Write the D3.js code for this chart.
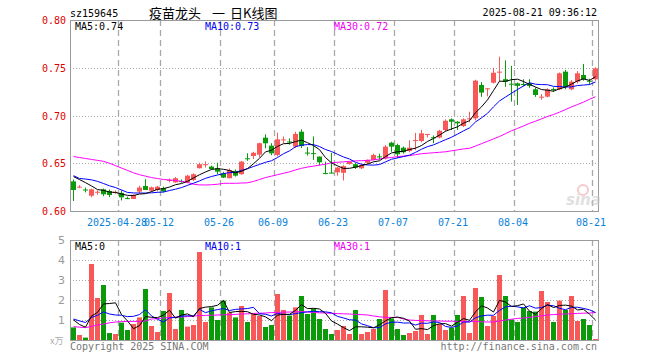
<!DOCTYPE html>
<html><head><meta charset="utf-8">
<script src="https://cdn.jsdelivr.net/npm/d3@7/dist/d3.min.js"></script>
<style>
html,body{margin:0;padding:0;background:#fff;}
svg{display:block;}
.mono{font-family:"DejaVu Sans Mono",monospace;font-size:10px;}
</style></head>
<body><svg id="c" width="660" height="360"></svg>
<script>
// ---------- data ----------
const dates = [
"2025-04-16","2025-04-17","2025-04-18","2025-04-21","2025-04-22","2025-04-23","2025-04-24","2025-04-25","2025-04-28","2025-04-29","2025-04-30",
"2025-05-06","2025-05-07","2025-05-08","2025-05-09","2025-05-12","2025-05-13","2025-05-14","2025-05-15","2025-05-16",
"2025-05-19","2025-05-20","2025-05-21","2025-05-22","2025-05-23","2025-05-26","2025-05-27","2025-05-28","2025-05-29","2025-05-30",
"2025-06-03","2025-06-04","2025-06-05","2025-06-06","2025-06-09","2025-06-10","2025-06-11","2025-06-12","2025-06-13",
"2025-06-16","2025-06-17","2025-06-18","2025-06-19","2025-06-20","2025-06-23","2025-06-24","2025-06-25","2025-06-26","2025-06-27","2025-06-30",
"2025-07-01","2025-07-02","2025-07-03","2025-07-04","2025-07-07","2025-07-08","2025-07-09","2025-07-10","2025-07-11",
"2025-07-14","2025-07-15","2025-07-16","2025-07-17","2025-07-18","2025-07-21","2025-07-22","2025-07-23","2025-07-24","2025-07-25",
"2025-07-28","2025-07-29","2025-07-30","2025-07-31","2025-08-01","2025-08-04","2025-08-05","2025-08-06","2025-08-07","2025-08-08",
"2025-08-11","2025-08-12","2025-08-13","2025-08-14","2025-08-15","2025-08-18","2025-08-19","2025-08-20","2025-08-21"];

const opens = [0.631,0.625,0.6225,0.616,0.6198,0.6227,0.621,0.6195,0.619,0.6135,0.6126,
0.6203,0.6262,0.6213,0.622,0.624,0.632,0.630,0.6315,0.630,
0.6325,0.6448,0.6488,0.6465,0.6447,0.6395,0.6343,0.642,0.6385,0.6552,
0.6576,0.659,0.6768,0.6684,0.6587,0.6748,0.6728,0.6674,0.683,
0.6612,0.6606,0.657,0.6397,0.6402,0.6405,0.640,0.6492,0.649,0.6447,0.6505,
0.6535,0.6572,0.6552,0.6715,0.669,0.6663,0.6628,0.674,0.6733,
0.6805,0.6772,0.677,0.6848,0.696,0.6935,0.689,0.6968,0.697,0.732,
0.7283,0.7343,0.7455,0.738,0.7333,0.7337,0.733,0.734,0.7274,0.7195,
0.7197,0.7277,0.7274,0.7459,0.7274,0.7354,0.7424,0.7364,0.738];
const highs = [0.633,0.627,0.6245,0.6235,0.6215,0.6235,0.6225,0.6215,0.6215,0.615,0.6175,
0.6265,0.6333,0.6255,0.6262,0.6255,0.634,0.6355,0.633,0.638,
0.6395,0.6505,0.652,0.6475,0.6505,0.641,0.6445,0.6435,0.6525,0.6605,
0.662,0.6715,0.6803,0.671,0.682,0.678,0.676,0.683,0.6855,
0.667,0.678,0.657,0.6517,0.661,0.646,0.648,0.652,0.650,0.649,0.654,
0.660,0.660,0.669,0.6725,0.6705,0.6675,0.674,0.6817,0.6848,
0.6807,0.679,0.685,0.696,0.697,0.694,0.697,0.704,0.7375,0.735,
0.7285,0.750,0.7616,0.7577,0.752,0.7345,0.738,0.738,0.7295,0.7225,
0.7285,0.7295,0.745,0.7477,0.737,0.7465,0.754,0.7385,0.7505];
const lows = [0.6105,0.624,0.6195,0.6144,0.617,0.6155,0.6145,0.618,0.611,0.6125,0.6125,
0.6185,0.622,0.620,0.6205,0.6195,0.630,0.6295,0.6295,0.629,
0.6315,0.6445,0.6455,0.6435,0.6385,0.6345,0.6343,0.636,0.638,0.6525,
0.6545,0.6565,0.6657,0.6585,0.657,0.671,0.6695,0.666,0.666,
0.658,0.6535,0.6478,0.6385,0.6395,0.637,0.632,0.6485,0.644,0.644,0.649,
0.653,0.6535,0.654,0.662,0.6555,0.660,0.6615,0.6637,0.672,
0.677,0.671,0.676,0.683,0.6848,0.6848,0.688,0.693,0.695,0.7195,
0.720,0.7335,0.7354,0.730,0.7145,0.711,0.7305,0.729,0.7195,0.7165,
0.719,0.725,0.7265,0.7275,0.7265,0.7335,0.7365,0.732,0.7365];
const closes = [0.622,0.6255,0.622,0.6227,0.6202,0.6175,0.6168,0.620,0.6143,0.6133,0.6168,
0.6245,0.622,0.6248,0.6255,0.6205,0.6325,0.6343,0.631,0.637,
0.6385,0.649,0.649,0.644,0.6412,0.635,0.643,0.637,0.6517,0.655,
0.661,0.671,0.6709,0.6604,0.675,0.675,0.6725,0.6807,0.668,
0.661,0.6604,0.651,0.6395,0.640,0.6455,0.647,0.6515,0.6455,0.6482,0.6535,
0.6587,0.657,0.6674,0.6674,0.6594,0.6615,0.6663,0.6743,0.6813,
0.6807,0.677,0.684,0.6945,0.6935,0.6918,0.696,0.697,0.7365,0.724,
0.7285,0.7448,0.7459,0.7354,0.733,0.731,0.7327,0.731,0.7215,0.7197,
0.7274,0.7274,0.7442,0.730,0.7354,0.7442,0.738,0.7361,0.7494];
// volume (unit as on axis)
const volumes = [0.63,0.25,0.12,3.8,2.1,2.75,0.35,0.3,0.87,0.5,0.8,
1.13,2.55,0.7,0.4,1.45,2.35,0.55,1.5,0.67,
0.75,4.4,0.9,1.63,1.0,1.97,1.37,1.13,1.7,0.9,
1.33,1.2,0.65,0.75,2.3,1.5,1.22,1.63,2.2,
1.3,1.57,1.05,0.55,0.3,0.5,0.7,0.3,1.5,0.3,0.4,
0.55,1.05,2.5,1.08,0.55,0.25,0.35,0.45,1.25,
0.3,1.25,0.8,0.5,0.62,1.25,2.2,0.35,2.6,2.15,
0.7,1.2,3.25,2.2,1.03,0.9,1.63,1.45,1.42,2.45,
1.9,0.9,1.97,1.5,2.2,0.95,1.05,0.75,0.05];
// closes / volumes of the 9 sessions before the first visible candle (estimated from MA lines)
const prevCloses = [0.655,0.628,0.631,0.636,0.640,0.641,0.638,0.640,0.639];
const prevVolumes = [1.2,0.9,1.3,1.0,1.07,1.4,0.8,1.0,1.2];
// MA30 lines
const ma30 = [0.657,0.656,0.655,0.654,0.653,0.652,0.650,0.6475,0.645,0.6425,0.640,
0.638,0.6365,0.635,0.634,0.633,0.6325,0.632,0.631,0.630,
0.628,0.6273,0.6273,0.6275,0.628,0.629,0.629,0.629,0.6293,0.6295,
0.631,0.633,0.635,0.6365,0.638,0.6395,0.641,0.643,0.6447,
0.646,0.647,0.648,0.649,0.6505,0.651,0.6515,0.652,0.6525,0.6527,0.653,
0.6535,0.6545,0.6555,0.656,0.657,0.6575,0.658,0.659,0.660,
0.6605,0.661,0.6615,0.662,0.663,0.664,0.665,0.6657,0.668,0.6705,
0.673,0.6755,0.678,0.681,0.684,0.6865,0.689,0.6918,0.694,0.6965,
0.699,0.701,0.7035,0.7062,0.709,0.7115,0.714,0.717,0.7197];
const volMa30 = [0.67,0.64,0.62,0.68,0.75,0.80,0.86,0.90,0.92,0.93,0.93,
0.93,0.95,1.05,1.07,1.1,1.13,1.14,1.15,1.17,
1.2,1.22,1.23,1.24,1.25,1.26,1.27,1.28,1.3,1.31,
1.33,1.34,1.35,1.37,1.38,1.39,1.4,1.41,1.42,
1.4,1.38,1.36,1.35,1.33,1.32,1.31,1.3,1.28,1.27,1.25,
1.2,1.16,1.13,1.13,1.13,1.05,1.0,0.98,0.97,
0.96,0.95,0.95,0.94,0.94,0.93,0.93,0.92,0.92,0.91,
0.9,0.9,0.95,1.0,1.04,1.08,1.1,1.13,1.17,1.21,
1.25,1.27,1.29,1.3,1.32,1.33,1.34,1.35,1.37];

const priceTicks = [0.60,0.65,0.70,0.75,0.80];
const volTicks = [1,2,3,4,5];
const tickDates = ["2025-04-28","2025-05-12","2025-05-26","2025-06-09","2025-06-23","2025-07-07","2025-07-21","2025-08-04","2025-08-21"];
const tickLabels = ["2025-04-28","05-12","05-26","06-09","06-23","07-07","07-21","08-04","08-21"];
const title = "疫苗龙头 一 日K线图";
const code = "sz159645";
const stamp = "2025-08-21 09:36:12";
const priceLegend = ["MA5:0.74","MA10:0.73","MA30:0.72"];
const volLegend = ["MA5:0","MA10:1","MA30:1"];
const volUnit = "x万";

// ---------- drawing ----------
const RED="#f85858", GREEN="#0a9a0a", GRID="#a8a8a8", BORDER="#9a9a9a";
const svg = d3.select("#c");
const L=70, R=598, PT=20, PB=211, VT=240, VB=340;
const x = d3.scaleBand().domain(dates).range([L,R]);
const y = d3.scaleLinear().domain([0.60,0.80]).range([PB,PT]);
const yv = d3.scaleLinear().domain([0,5]).range([VB,VT]);
const cx = d => Math.round(x(d)) + 3.5;

function ma(arr, prev, n){
  const all = prev.concat(arr);
  return arr.map((_,i)=>{ const j=i+prev.length; return d3.mean(all.slice(j-n+1,j+1)); });
}
const ma5 = ma(closes, prevCloses, 5), ma10 = ma(closes, prevCloses, 10);
const vma5 = ma(volumes, prevVolumes, 5), vma10 = ma(volumes, prevVolumes, 10);

// grids
function grid(top,bot,ys,yscale){
  const g = svg.append("g");
  g.selectAll("line.h").data(ys).join("line")
    .attr("x1",L).attr("x2",R)
    .attr("y1",d=>Math.round(yscale(d))+0.5).attr("y2",d=>Math.round(yscale(d))+0.5)
    .attr("stroke",GRID).attr("stroke-dasharray","1,2");
  g.selectAll("line.v").data(tickDates).join("line")
    .attr("x1",d=>Math.round(x(d))+0.5).attr("x2",d=>Math.round(x(d))+0.5)
    .attr("y1",top).attr("y2",bot)
    .attr("stroke",GRID).attr("stroke-width",1.3).attr("stroke-dasharray","6,4");
  g.append("rect").attr("x",L+0.5).attr("y",top+0.5).attr("width",R-L).attr("height",bot-top)
    .attr("fill","none").attr("stroke",BORDER).attr("stroke-width",1);
}
grid(PT,PB,[0.65,0.70,0.75],y);
grid(VT,VB,[1,2,3,4],yv);

// watermark
const wm = svg.append("g").attr("opacity",0.55);
wm.append("circle").attr("cx",583).attr("cy",190).attr("r",5).attr("fill","none").attr("stroke","#f0a0a0").attr("stroke-width",2);
wm.append("text").attr("x",566).attr("y",205).attr("font-family","DejaVu Sans").attr("font-weight","bold")
  .attr("font-style","italic").attr("font-size",15).attr("fill","#c8c8c8").text("sina");

// candles
const idx = d3.range(dates.length);
const up = i => closes[i] >= opens[i];
const cg = svg.append("g");
cg.selectAll("line").data(idx).join("line")
  .attr("x1",i=>cx(dates[i])).attr("x2",i=>cx(dates[i]))
  .attr("y1",i=>y(highs[i])).attr("y2",i=>y(lows[i]))
  .attr("stroke",i=>up(i)?RED:GREEN).attr("stroke-width",1);
cg.selectAll("rect").data(idx).join("rect")
  .attr("x",i=>Math.round(x(dates[i]))+1).attr("width",5)
  .attr("y",i=>y(Math.max(opens[i],closes[i])))
  .attr("height",i=>Math.max(1,Math.abs(y(opens[i])-y(closes[i]))))
  .attr("fill",i=>up(i)?RED:GREEN);

// volume bars
svg.append("g").selectAll("rect").data(idx).join("rect")
  .attr("x",i=>Math.round(x(dates[i]))+1).attr("width",5)
  .attr("y",i=>yv(volumes[i])).attr("height",i=>VB-yv(volumes[i]))
  .attr("fill",i=>up(i)?RED:GREEN);

// MA lines
function mline(vals, ys, color){
  svg.append("path").datum(vals)
    .attr("d", d3.line().x((v,i)=>cx(dates[i])).y(v=>ys(v)))
    .attr("fill","none").attr("stroke",color).attr("stroke-width",1);
}
mline(ma30,y,"#ff00ff"); mline(ma10,y,"#0000ff"); mline(ma5,y,"#000000");
mline(volMa30,yv,"#ff00ff"); mline(vma10,yv,"#0000ff"); mline(vma5,yv,"#000000");

// axes
const ya = svg.append("g").attr("transform",`translate(${L-4},0)`)
  .call(d3.axisLeft(y).tickValues(priceTicks).tickFormat(d3.format(".2f")).tickSize(0));
ya.select(".domain").remove();
ya.selectAll("text").attr("class","mono").attr("font-family",null).attr("font-size",null)
  .attr("fill","#e00000").attr("dy","0.35em").attr("x",0);

const va = svg.append("g").attr("transform",`translate(${L-5},0)`)
  .call(d3.axisLeft(yv).tickValues(volTicks).tickFormat(d3.format("d")).tickSize(0));
va.select(".domain").remove();
va.selectAll("text").attr("font-family","DejaVu Sans").attr("font-size",11).attr("fill","#999").attr("x",0).attr("dy","0.35em");

svg.append("g").selectAll("text").data(tickDates).join("text")
  .attr("class","mono").attr("x",d=>Math.round(x(d))-1).attr("y",226)
  .attr("text-anchor","middle").attr("fill","#0a82d8")
  .text((d,i)=>tickLabels[i]);

// header texts
svg.append("text").attr("class","mono").attr("x",70).attr("y",17).attr("fill","#000").text(code);
const titleParts = title.split(" "), titleX = [149,212,230];
svg.append("text").attr("font-family","Noto Sans CJK SC").attr("font-size",13).attr("fill","#000")
  .attr("y",18).selectAll("tspan").data(titleParts).join("tspan")
  .attr("x",(d,i)=>titleX[i]).text(d=>d);
svg.append("text").attr("class","mono").attr("x",597).attr("y",16).attr("text-anchor","end").attr("fill","#000").text(stamp);

const legX = [75,205,334], legC = ["#000","#0000ee","#ee00ee"];
priceLegend.forEach((t,i)=>svg.append("text").attr("class","mono").attr("x",legX[i]).attr("y",30).attr("fill",legC[i]).text(t));
volLegend.forEach((t,i)=>svg.append("text").attr("class","mono").attr("x",legX[i]).attr("y",250).attr("fill",legC[i]).text(t));

svg.append("text").attr("x",50).attr("y",344).attr("font-family","Noto Sans CJK SC").attr("font-size",9).attr("fill","#aaa").text(volUnit);
svg.append("text").attr("class","mono").attr("x",70).attr("y",350).attr("fill","#777").text("Copyright 2025 SINA.COM");
svg.append("text").attr("class","mono").attr("x",597).attr("y",350).attr("text-anchor","end").attr("fill","#777").text("http://finance.sina.com.cn");
</script></body></html>
